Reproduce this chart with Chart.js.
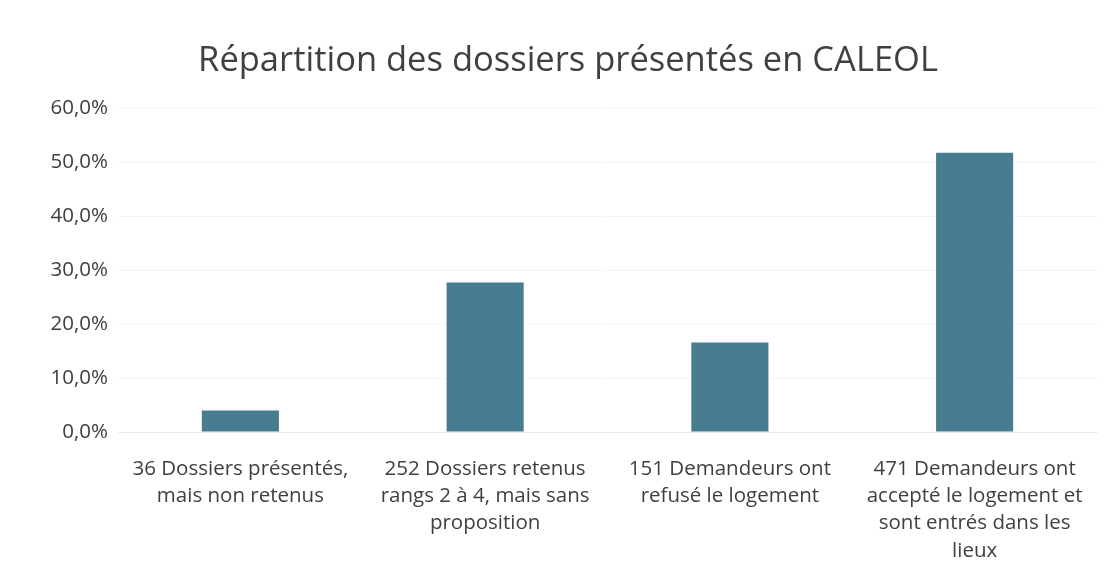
<!DOCTYPE html>
<html><head><meta charset="utf-8">
<script src="https://cdn.jsdelivr.net/npm/chart.js@4"></script>
<style>html,body{margin:0;padding:0;background:#fff;}#wrap{width:1117px;height:570px;}</style>
</head><body><div id="wrap"><canvas id="c" width="1117" height="570"></canvas></div>
<script>
const categories = [
  ["36 Dossiers présentés,", "mais non retenus"],
  ["252 Dossiers retenus", "rangs 2 à 4, mais sans", "proposition"],
  ["151 Demandeurs ont", "refusé le logement"],
  ["471 Demandeurs ont", "accepté le logement et", "sont entrés dans les", "lieux"]
];
const percentages = [4.0, 27.7, 16.6, 51.8];
const yTicks = [0, 10, 20, 30, 40, 50, 60];
const titleText = "Répartition des dossiers présentés en CALEOL";

new Chart(document.getElementById('c'), {
  type: 'bar',
  data: { labels: categories, datasets: [{ data: percentages, backgroundColor: '#477c91', categoryPercentage: 1.0, barPercentage: 0.315 }] },
  options: {
    responsive: false, animation: false,
    layout: { padding: { left: 39, right: 20, top: 40, bottom: 0 } },
    plugins: {
      legend: { display: false },
      tooltip: { enabled: false },
      title: { display: true, text: titleText, color: '#404040', font: { family: 'Open Sans', size: 34.5, weight: 'normal', lineHeight: 1.2 }, padding: { top: 0, bottom: 27 } }
    },
    scales: {
      x: { grid: { display: false }, border: { color: '#ececec' },
           afterFit: s => { s.height = 138; },
           ticks: { color: '#404040', font: { family: 'Open Sans', size: 20.5, lineHeight: 1.32 }, maxRotation: 0, autoSkip: false, padding: 16 } },
      y: { min: 0, max: 60, afterBuildTicks: s => { s.ticks = yTicks.map(v => ({ value: v })); },
           afterFit: s => { s.width = 79; },
           grid: { color: '#f5f5f5', drawTicks: false }, border: { display: false },
           ticks: { color: '#404040', font: { family: 'Open Sans', size: 20.5 }, padding: 10,
                    callback: v => v.toFixed(1).replace('.', ',') + '%' } }
    }
  }
});
</script></body></html>
